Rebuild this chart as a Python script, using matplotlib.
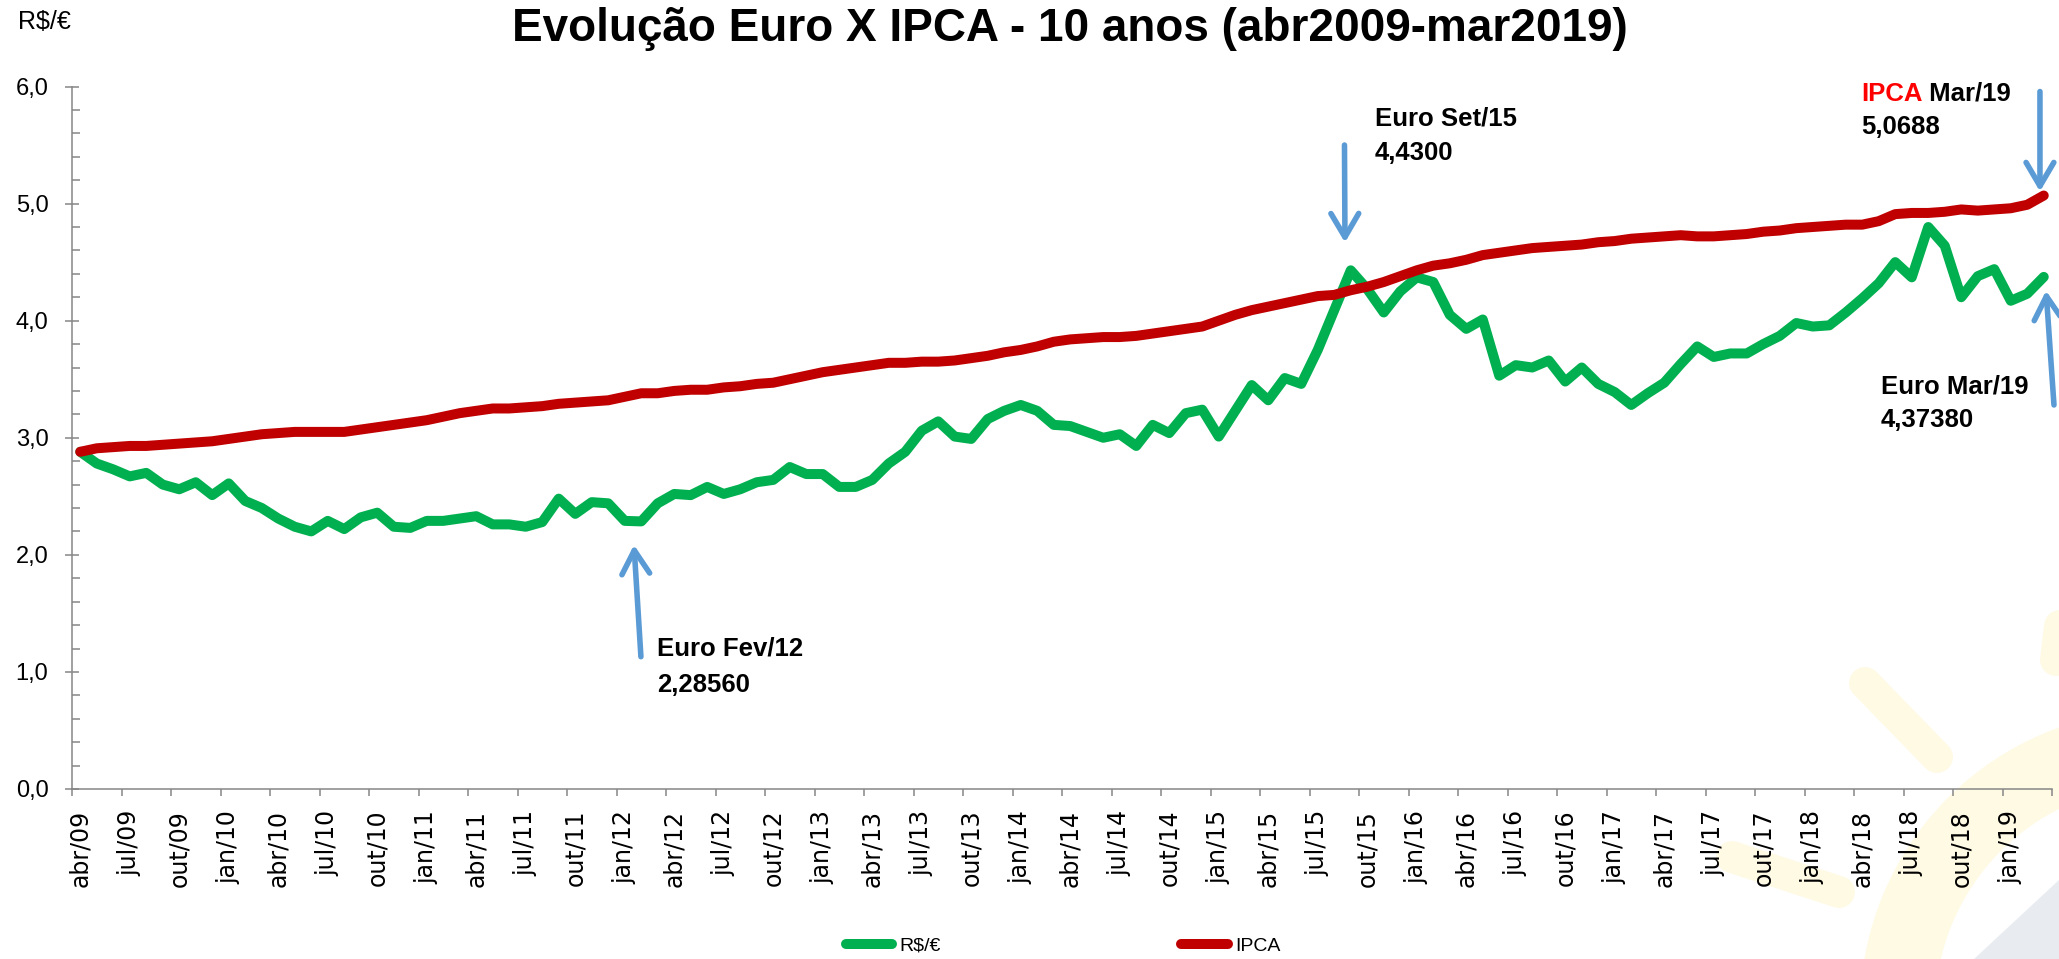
import matplotlib
matplotlib.use("Agg")
import matplotlib.pyplot as plt
from matplotlib.patches import Polygon, Wedge
import numpy as np

# meses de abr/2009 a mar/2019
meses = ["jan", "fev", "mar", "abr", "mai", "jun", "jul", "ago", "set", "out", "nov", "dez"]
categorias = ["%s/%02d" % (meses[(3 + k) % 12], 9 + (3 + k) // 12) for k in range(120)]

# R$/€ mensal
euro = [2.88, 2.78, 2.73, 2.67, 2.70, 2.60, 2.56, 2.62, 2.51, 2.61,
        2.46, 2.40, 2.31, 2.24, 2.20, 2.29, 2.22, 2.32, 2.36, 2.24,
        2.23, 2.29, 2.29, 2.31, 2.33, 2.26, 2.26, 2.24, 2.28, 2.48,
        2.35, 2.45, 2.44, 2.29, 2.2856, 2.44, 2.52, 2.51, 2.58, 2.52,
        2.56, 2.62, 2.64, 2.75, 2.69, 2.69, 2.58, 2.58, 2.64, 2.78,
        2.88, 3.06, 3.14, 3.01, 2.99, 3.16, 3.23, 3.28, 3.23, 3.11,
        3.10, 3.05, 3.00, 3.03, 2.93, 3.11, 3.04, 3.21, 3.24, 3.01,
        3.23, 3.45, 3.32, 3.51, 3.46, 3.75, 4.09, 4.43, 4.27, 4.07,
        4.25, 4.37, 4.33, 4.05, 3.93, 4.01, 3.53, 3.62, 3.60, 3.66,
        3.48, 3.60, 3.46, 3.39, 3.28, 3.38, 3.47, 3.63, 3.78, 3.69,
        3.72, 3.72, 3.80, 3.87, 3.98, 3.95, 3.96, 4.07, 4.19, 4.32,
        4.50, 4.37, 4.80, 4.64, 4.20, 4.38, 4.44, 4.17, 4.23, 4.3738]

# euro de abr/09 corrigido pelo IPCA
ipca = [2.88, 2.91, 2.92, 2.93, 2.93, 2.94, 2.95, 2.96, 2.97, 2.99,
        3.01, 3.03, 3.04, 3.05, 3.05, 3.05, 3.05, 3.07, 3.09, 3.11,
        3.13, 3.15, 3.18, 3.21, 3.23, 3.25, 3.25, 3.26, 3.27, 3.29,
        3.30, 3.31, 3.32, 3.35, 3.38, 3.38, 3.40, 3.41, 3.41, 3.43,
        3.44, 3.46, 3.47, 3.50, 3.53, 3.56, 3.58, 3.60, 3.62, 3.64,
        3.64, 3.65, 3.65, 3.66, 3.68, 3.70, 3.73, 3.75, 3.78, 3.82,
        3.84, 3.85, 3.86, 3.86, 3.87, 3.89, 3.91, 3.93, 3.95, 4.00,
        4.05, 4.09, 4.12, 4.15, 4.18, 4.21, 4.22, 4.26, 4.29, 4.33,
        4.38, 4.43, 4.47, 4.49, 4.52, 4.56, 4.58, 4.60, 4.62, 4.63,
        4.64, 4.65, 4.67, 4.68, 4.70, 4.71, 4.72, 4.73, 4.72, 4.72,
        4.73, 4.74, 4.76, 4.77, 4.79, 4.80, 4.81, 4.82, 4.82, 4.85,
        4.91, 4.92, 4.92, 4.93, 4.95, 4.94, 4.95, 4.96, 4.99, 5.0688]

rotulos_y = ["0,0", "1,0", "2,0", "3,0", "4,0", "5,0", "6,0"]

VERDE = "#00B050"
VERMELHO = "#C00000"
AZUL = "#5B9BD5"
CINZA = "#868686"
FONTE = "Liberation Sans"

W, H = 2059, 959
fig = plt.figure(figsize=(W / 100, H / 100), dpi=100)

# marca d'agua (sol) no canto inferior direito
bg = fig.add_axes([0, 0, 1, 1], zorder=0)
bg.set_xlim(0, W)
bg.set_ylim(H, 0)
bg.axis("off")
amarelo = "#FFFAE4"
for xs, ys in [([1865, 1937], [683, 757]), ([1732, 1839], [857, 892]), ([2066, 2056], [575, 660])]:
    bg.plot(xs, ys, color=amarelo, lw=23, solid_capstyle="round")
bg.add_patch(Wedge((2160, 1010), 300, 0, 360, width=75, color=amarelo, lw=0))
bg.add_patch(Polygon([(1974, 959), (2059, 880), (2059, 959)], closed=True, color="#E8ECF0", lw=0))

ax = fig.add_axes([72 / W, 1 - 789 / H, (2052 - 72) / W, (789 - 86.5) / H], zorder=1)
ax.patch.set_visible(False)

x = np.arange(len(euro))
ax.plot(x, euro, color=VERDE, lw=7.2, solid_capstyle="round", solid_joinstyle="round", label="R$/€")
ax.plot(x, ipca, color=VERMELHO, lw=7.2, solid_capstyle="round", solid_joinstyle="round", label="IPCA")

ax.set_xlim(-0.5, len(euro) - 0.5)
ax.set_ylim(0, 6)

for s in ["top", "right"]:
    ax.spines[s].set_visible(False)
for s in ["left", "bottom"]:
    ax.spines[s].set_color(CINZA)
    ax.spines[s].set_linewidth(1.1)

# eixo y
ax.set_yticks(range(7))
ax.set_yticklabels(rotulos_y, fontsize=17, family=FONTE)
ax.set_yticks(np.arange(0, 6.01, 0.2), minor=True)
ax.tick_params(axis="y", which="major", direction="inout", length=10, width=1.1, color=CINZA, pad=12)
ax.tick_params(axis="y", which="minor", direction="in", length=5.8, width=1.1, color=CINZA)

# eixo x: marcas entre categorias, rotulos no centro
ax.set_xticks(np.arange(-0.5, len(euro), 3))
ax.set_xticklabels([])
ax.set_xticks(x[::3], minor=True)
ax.set_xticklabels(categorias[::3], minor=True, rotation=90, fontsize=17, family="DejaVu Sans")
ax.tick_params(axis="x", which="major", direction="out", length=5, width=1.1, color=CINZA)
ax.tick_params(axis="x", which="minor", length=0, pad=15)

# titulo, ajustado a largura da referencia
titulo = fig.text(1070 / W, 1 - 29 / H, "Evolução Euro X IPCA - 10 anos (abr2009-mar2019)",
                  ha="center", va="center", fontsize=30, fontweight="bold", family=FONTE)
fig.canvas.draw()
larg = titulo.get_window_extent().width
titulo.set_fontsize(30 * 1116 / larg)

fig.text(18 / W, 1 - 22 / H, "R$/€", ha="left", va="center", fontsize=18, family=FONTE)


def rotulo(xd, yd, s, cor="black"):
    return ax.text(xd, yd, s, ha="left", va="center", fontsize=18.5, fontweight="bold",
                   family=FONTE, color=cor, clip_on=False)


def seta(cauda, ponta):
    ax.annotate("", xy=ponta, xytext=cauda, annotation_clip=False,
                arrowprops=dict(arrowstyle="->,head_length=0.85,head_width=0.5", color=AZUL,
                                lw=4, shrinkA=0, shrinkB=0, mutation_scale=20))


rotulo(34.95, 1.20, "Euro Fev/12")
rotulo(34.95, 0.89, "2,28560")
seta((33.98, 1.13), (33.56, 2.085))

rotulo(78.47, 5.73, "Euro Set/15")
rotulo(78.47, 5.43, "4,4300")
seta((76.62, 5.50), (76.65, 4.667))

t_ipca = rotulo(107.92, 5.94, "IPCA", cor="#FF0000")
ax.annotate(" Mar/19", xy=(1, 0.5), xycoords=t_ipca, ha="left", va="center",
            fontsize=18.5, fontweight="bold", family=FONTE)
rotulo(107.92, 5.65, "5,0688")
seta((118.77, 5.957), (118.77, 5.103))

rotulo(109.14, 3.44, "Euro Mar/19")
rotulo(109.14, 3.15, "4,37380")
seta((119.62, 3.28), (119.14, 4.256))

ax.legend(loc="center left", bbox_to_anchor=(845.5 / W, 1 - 946 / H), bbox_transform=fig.transFigure,
          ncol=2, frameon=False, prop={"family": FONTE, "size": 14}, handlelength=2.4,
          handletextpad=0.35, columnspacing=12.4, borderpad=0, borderaxespad=0)

fig.savefig("out.png", dpi=100)
